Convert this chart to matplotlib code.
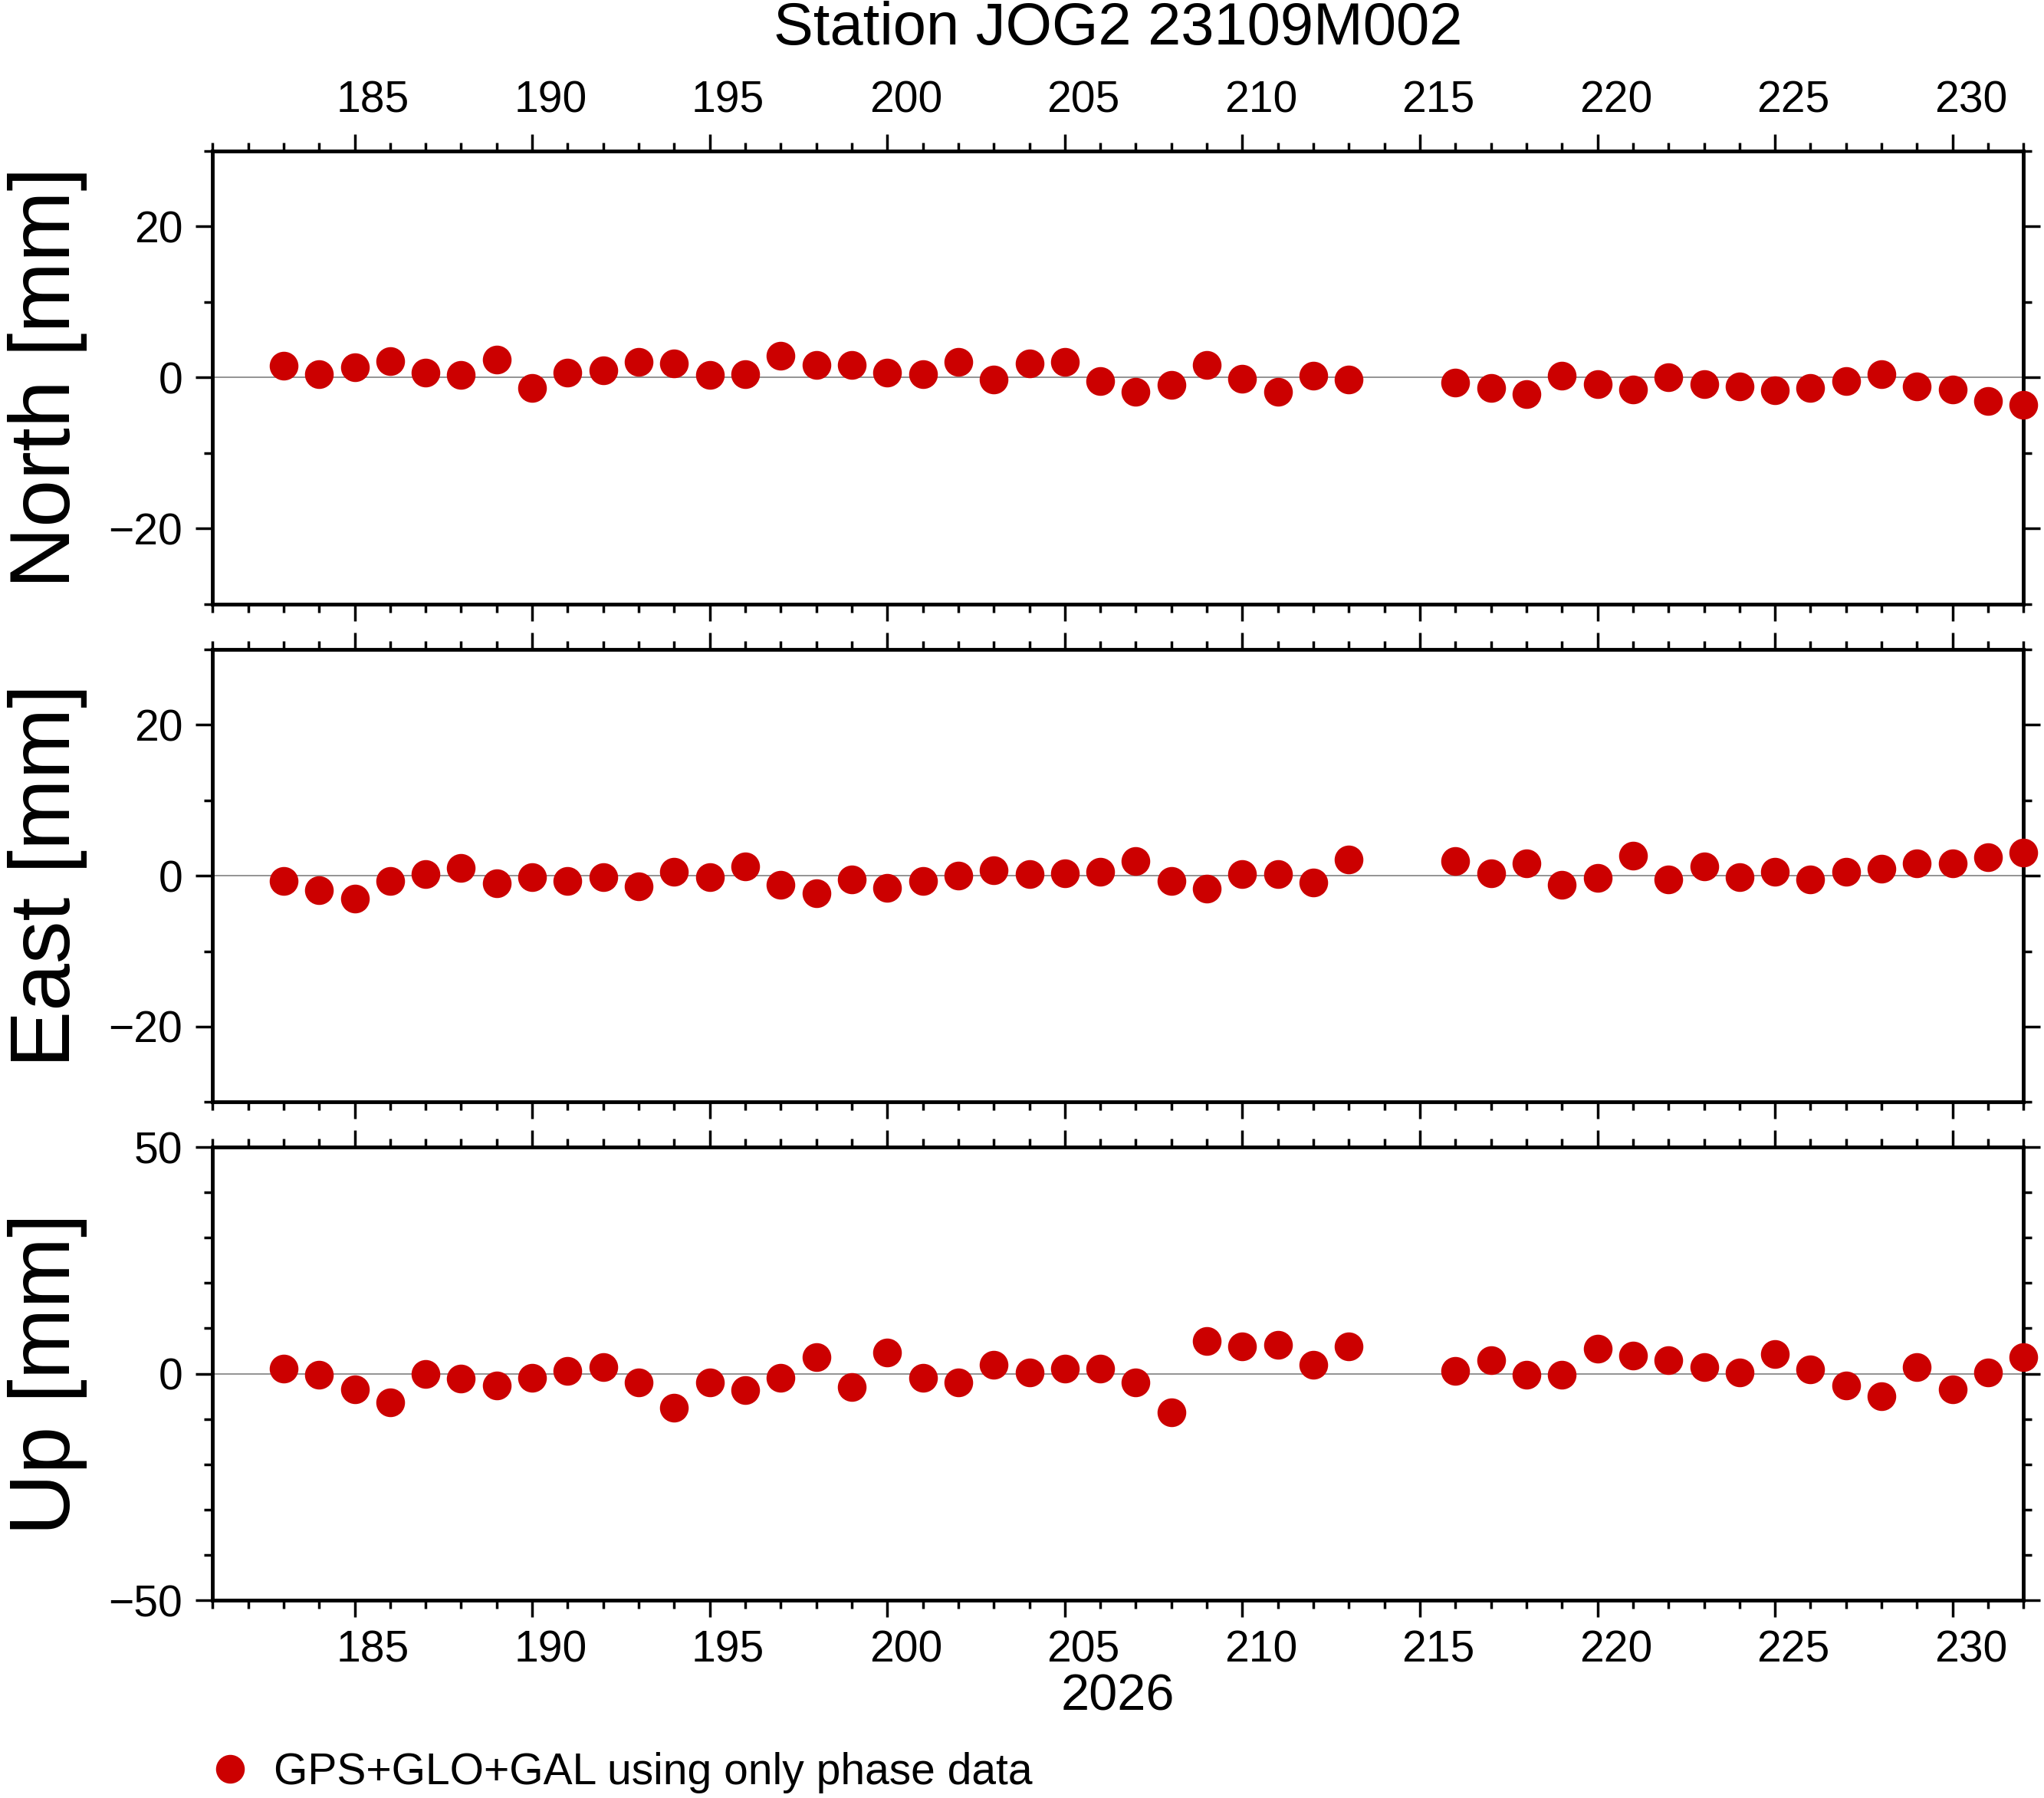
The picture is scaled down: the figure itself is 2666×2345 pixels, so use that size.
import matplotlib
matplotlib.use("Agg")
import matplotlib.pyplot as plt
import matplotlib.transforms as mtransforms
from matplotlib.ticker import MultipleLocator
from matplotlib.lines import Line2D

plt.rcParams['font.family'] = ['Liberation Sans', 'DejaVu Sans']

days = [183,184,185,186,187,188,189,190,191,192,193,194,195,196,197,198,199,200,201,202,
        203,204,205,206,207,208,209,210,211,212,213,216,217,218,219,220,221,222,223,224,
        225,226,227,228,229,230,231,232]
north = [1.6,0.5,1.4,2.2,0.7,0.3,2.4,-1.4,0.7,1.0,2.1,1.9,0.3,0.5,2.9,1.7,1.7,0.7,0.5,2.1,
         -0.3,1.9,2.1,-0.5,-1.9,-1.0,1.7,-0.2,-1.9,0.2,-0.3,-0.7,-1.4,-2.2,0.2,-0.9,-1.6,0.0,-0.9,-1.2,
         -1.7,-1.4,-0.5,0.5,-1.2,-1.6,-3.1,-3.6]
east = [-0.7,-1.9,-3.0,-0.7,0.2,1.0,-1.0,-0.2,-0.7,-0.2,-1.4,0.5,-0.2,1.2,-1.2,-2.3,-0.5,-1.6,-0.7,0.0,
        0.7,0.2,0.3,0.5,1.9,-0.7,-1.7,0.2,0.2,-0.9,2.1,1.9,0.3,1.6,-1.2,-0.3,2.6,-0.5,1.2,-0.2,
        0.5,-0.5,0.5,0.9,1.6,1.6,2.4,3.0]
up = [1.1,-0.3,-3.4,-6.3,0.0,-1.1,-2.6,-0.9,0.6,1.4,-2.0,-7.5,-2.0,-3.7,-0.9,3.7,-2.9,4.6,-0.9,-2.0,
      2.0,0.3,1.1,1.1,-2.0,-8.6,7.2,6.0,6.3,2.0,6.0,0.6,2.9,-0.3,-0.3,5.5,4.0,2.9,1.4,0.3,
      4.3,0.9,-2.6,-4.9,1.4,-3.4,0.3,3.7]

labels = ["North [mm]", "East [mm]", "Up [mm]"]
series = [north, east, up]
ylims = [(-30, 30), (-30, 30), (-50, 50)]
majors = [20, 20, 50]
minors = [10, 10, 10]
red = "#cc0000"

fig = plt.figure(figsize=(26.66, 23.45), dpi=100)
tops = [0.916, 0.639, 0.362]
h = 0.252
axes = []
shift = mtransforms.ScaledTranslation(0.24, 0, fig.dpi_scale_trans)
for i in range(3):
    ax = fig.add_axes([0.104, tops[i] - h, 0.886, h])
    ax.axhline(0, color="#808080", lw=1.2, zorder=1)
    ax.plot(days, series[i], 'o', color=red, ms=26, mec=red, zorder=3, clip_on=False)
    ax.set_xlim(181, 232)
    ax.set_ylim(*ylims[i])
    ax.xaxis.set_major_locator(MultipleLocator(5))
    ax.xaxis.set_minor_locator(MultipleLocator(1))
    ax.yaxis.set_major_locator(MultipleLocator(majors[i]))
    ax.yaxis.set_minor_locator(MultipleLocator(minors[i]))
    ax.tick_params(which='both', direction='out', top=True, right=True, width=2.5,
                   labelsize=41, pad=12,
                   labeltop=(i == 0), labelbottom=(i == 2))
    ax.tick_params(which='major', length=16)
    ax.tick_params(which='minor', length=8)
    for s in ax.spines.values():
        s.set_linewidth(3.5)
    ax.set_ylabel(labels[i], fontsize=80, labelpad=20)
    axes.append(ax)

fig.canvas.draw()
for ax in axes:
    for lab in ax.get_xticklabels(which='major') + ax.xaxis.get_ticklabels(which='major'):
        pass
    for t in ax.xaxis.get_major_ticks():
        t.label1.set_transform(t.label1.get_transform() + shift)
        t.label2.set_transform(t.label2.get_transform() + shift)

axes[0].set_title("Station JOG2 23109M002", fontsize=56, pad=100)
axes[2].set_xlabel("2026", fontsize=48, labelpad=2)

h1 = Line2D([], [], marker='o', ls='', color=red, ms=26)
fig.legend([h1], ["GPS+GLO+GAL using only phase data"], loc='center left',
           bbox_to_anchor=(0.072, 0.014), frameon=False, fontsize=41,
           handletextpad=0.0)

fig.savefig("out.png", dpi=100)
